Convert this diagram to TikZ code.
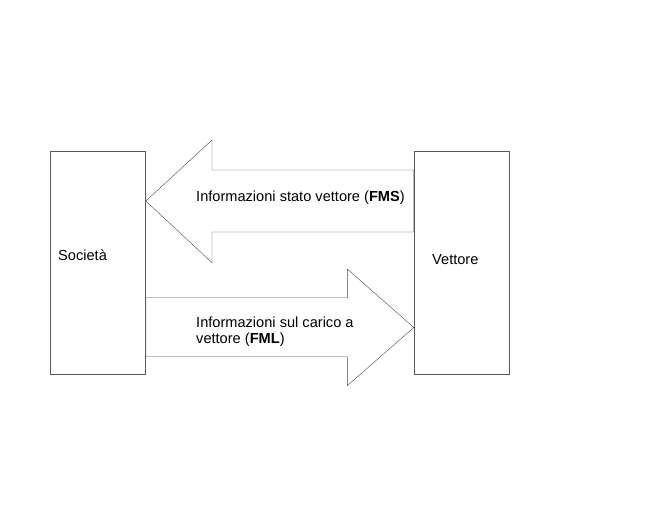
\documentclass[tikz,border=0pt]{standalone}
\usepackage{fontspec}
\setmainfont{Liberation Sans}
\usetikzlibrary{positioning, calc}

\begin{document}
\begin{tikzpicture}[
    x=1pt, y=-1pt,
    box/.style={rectangle, draw=black!65, minimum width=95.5pt, minimum height=223.6pt, inner sep=0pt},
    flow/.style={draw=black!70, fill=white, line join=miter},
    lbl/.style={font=\fontsize{14.6}{16}\selectfont, align=left, inner sep=0pt, anchor=base west}
]
\useasboundingbox (0,0) rectangle (672,504);

% the two parties
\node[box] (soc) at (97.9, 262.5) {};
\node[box] (vet) at (461.7, 262.5) {};
\node[lbl] (socname) at (58, 260) {Società};
\node[lbl] (vetname) at (432, 264) {Vettore};

% upper flow, pointing left
\coordinate (fmsr1) at (vet.west |- 0,170);
\coordinate (fmsr2) at (vet.west |- 0,232);
\coordinate (fmstip) at (soc.east |- 0,201);
\draw[flow] (fmsr1) -- (212,170) -- (212,140) -- (fmstip) -- (212,262.7) -- (212,232) -- (fmsr2) -- cycle;
\node[lbl] (fms) at (196, 201) {Informazioni stato vettore (\textbf{FMS})};

% lower flow, pointing right
\coordinate (fmll1) at (soc.east |- 0,297.7);
\coordinate (fmll2) at (soc.east |- 0,356.7);
\coordinate (fmltip) at (vet.west |- 0,327.5);
\draw[flow] (fmll1) -- (347.3,297.7) -- (347.3,269) -- (fmltip) -- (347.3,385.7) -- (347.3,356.7) -- (fmll2) -- cycle;
\node[lbl, anchor=west] (fml) at (196, 331.5) {Informazioni sul carico a\\vettore (\textbf{FML})};

\end{tikzpicture}
\end{document}
